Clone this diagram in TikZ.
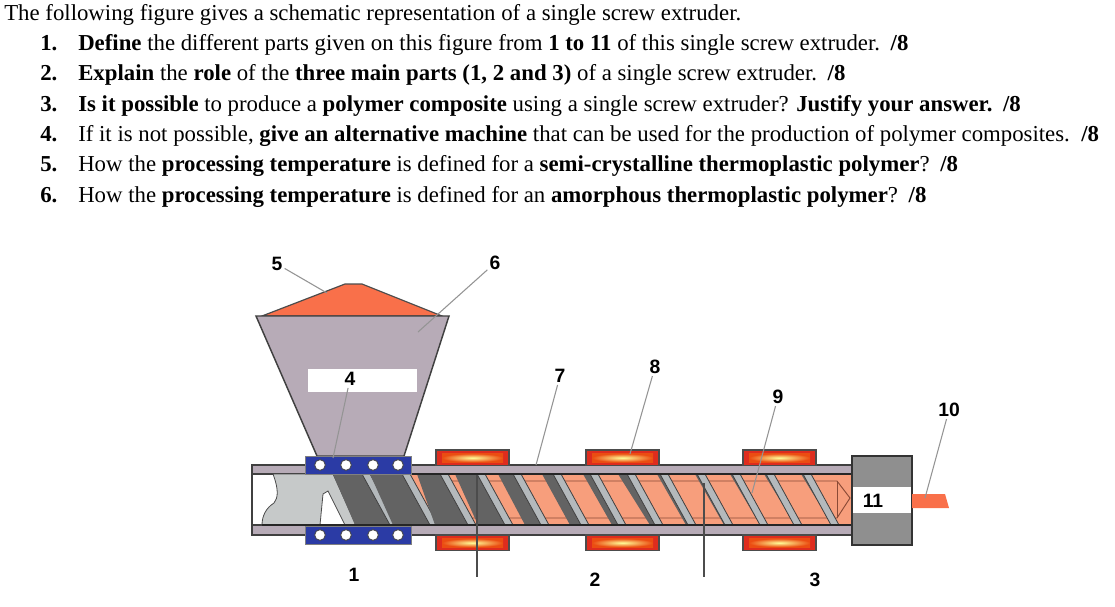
\documentclass[tikz,border=0pt]{standalone}
\usepackage{fontspec}
\setmainfont{Liberation Serif}
\setsansfont{Liberation Sans}
\usetikzlibrary{positioning}
\definecolor{hoppergrey}{HTML}{B7ABB7}
\definecolor{powder}{HTML}{F9704A}
\definecolor{melt}{HTML}{F79E7C}
\definecolor{bandblue}{HTML}{2B3BA5}
\definecolor{screwdark}{HTML}{636363}
\definecolor{flightgrey}{HTML}{B4B9BC}
\definecolor{feedgrey}{HTML}{C6C9C9}
\definecolor{diegrey}{HTML}{8F8F8F}
\definecolor{heaterred}{HTML}{DE2C1E}
\definecolor{meltline}{HTML}{8A4A36}
\newcommand{\markgap}{\hspace{8pt}}
\tikzset{
    line/.style={anchor=base west,inner sep=0pt,font=\fontsize{17.1}{19}\selectfont},
    partlabel/.style={font=\sffamily\bfseries\fontsize{14.5}{16}\selectfont,inner sep=1.5pt},
    leader/.style={draw=black!42,line width=0.8pt},
    edgeline/.style={draw=black!75,line width=1.1pt},
    heaterbox/.style={fill=heaterred,draw=black!70,line width=1pt},
    dot/.style={circle,fill=white,draw=black!75,line width=0.6pt,inner sep=0pt,minimum size=8pt},
}
\begin{document}
\begin{tikzpicture}[x=0.75pt,y=-0.75pt]
    \useasboundingbox (0,0) rectangle (1115,607);
    \fill[white] (0,0) rectangle (1115,607);

    %Text
    \node[line] at (4,20.5) (intro) {The following figure gives a schematic representation of a single screw extruder.};
    \node[line] at (40,50.5) (n1) {\textbf{1.}};
    \node[line] at (78,50.5) (q1) {\textbf{Define} the different parts given on this figure from \textbf{1 to 11} of this single screw extruder.\markgap\textbf{/8}};
    \node[line] at (40,80.5) (n2) {\textbf{2.}};
    \node[line] at (78,80.5) (q2) {\textbf{Explain} the \textbf{role} of the \textbf{three main parts (1, 2 and 3)} of a single screw extruder.\markgap\textbf{/8}};
    \node[line] at (40,111.5) (n3) {\textbf{3.}};
    \node[line] at (78,111.5) (q3) {\textbf{Is it possible} to produce a \textbf{polymer composite} using a single screw extruder? \textbf{Justify your answer.}\markgap\textbf{/8}};
    \node[line] at (40,141.5) (n4) {\textbf{4.}};
    \node[line] at (78,141.5) (q4) {If it is not possible, \textbf{give an alternative machine} that can be used for the production of polymer composites.\ \ \textbf{/8}};
    \node[line] at (40,171.5) (n5) {\textbf{5.}};
    \node[line] at (78,171.5) (q5) {How the \textbf{processing temperature} is defined for a \textbf{semi-crystalline thermoplastic polymer}?\markgap\textbf{/8}};
    \node[line] at (40,202.5) (n6) {\textbf{6.}};
    \node[line] at (78,202.5) (q6) {How the \textbf{processing temperature} is defined for an \textbf{amorphous thermoplastic polymer}?\markgap\textbf{/8}};

    %Hopper
    \fill[powder,draw=black!70,line width=0.9pt] (262,316) -- (345,284) -- (362,284) -- (442,316) -- cycle;
    \fill[hoppergrey,edgeline] (256,316) -- (449,316) -- (404,456) -- (317,456) -- cycle;
    \fill[white] (308,369) rectangle (417,392);

    %Barrel
    \fill[hoppergrey,edgeline] (252,465) rectangle (852,474);
    \fill[hoppergrey,edgeline] (252,525) rectangle (852,535);
    \draw[edgeline] (252,474) -- (252,525);

    %Melt and screw
    \fill[melt] (405,474) rectangle (852,525);
    \draw[meltline,line width=0.7pt] (430,481) -- (837,481) -- (850,498) -- (837,518) -- (420,518);
    \draw[meltline,line width=0.7pt] (837,481) -- (837,518);
    \fill[feedgrey,draw=black!70,line width=0.6pt] (273,474) -- (333,474) -- (356,525) -- (262,525) .. controls (262,516) and (266,508) .. (274,503) .. controls (278,498) and (279,490) .. cycle;
    \fill[white,draw=black!70,line width=0.6pt] (320,525) -- (323,494) -- (328,491) -- (345,525) -- cycle;
    \foreach \t/\ds/\db in {362/333/355,402/370/393,440/417/435,477/455/478,513/498/525,553/542/570,590/583/612,627/618/650,660/657/686,697/695/724,732/730/760,766/764/795,803/801/832}{
        \fill[screwdark] (\ds,474) -- (\t,474) -- (\t+28,525) -- (\db,525) -- cycle;
        \fill[flightgrey,draw=black!75,line width=0.6pt] (\t,474) -- (\t+8,474) -- (\t+36,525) -- (\t+28,525) -- cycle;
    }
    \draw[black!85,line width=1.1pt] (333,474) -- (852,474);
    \draw[black!85,line width=1.1pt] (262,525) -- (852,525);

    %Bands
    \foreach \y in {456,526}{
        \fill[bandblue,draw=black!50,line width=0.7pt] (305,\y) rectangle (411,\y+18);
        \foreach \x in {320,346,373,398}{
            \node[dot] at (\x,\y+9) {};
        }
    }

    %Heaters
    \foreach \x in {436,586,743}{
        \foreach \y in {450,535}{
            \fill[heaterbox] (\x,\y) rectangle (\x+73,\y+15.5);
            \shade[inner color=yellow!40!white,outer color=heaterred!60!orange] (\x+6,\y+3.5) rectangle (\x+67,\y+12);
        }
    }

    %Die
    \fill[diegrey,draw=black!80,line width=1.2pt] (852,456) rectangle (912,545);
    \fill[white] (853,487) rectangle (911,513);
    \fill[powder] (912,494) -- (945,494) -- (949,508) -- (912,508) -- cycle;

    %Nodes
    \node[partlabel] at (277,264) (five)   {5};
    \node[partlabel] at (495,263) (six)    {6};
    \node[partlabel] at (350,379) (four)   {4};
    \node[partlabel] at (560,376) (seven)  {7};
    \node[partlabel] at (655,367) (eight)  {8};
    \node[partlabel] at (778,397) (nine)   {9};
    \node[partlabel] at (949,410) (ten)    {10};
    \node[partlabel] at (873,501) (eleven) {11};
    \node[partlabel] at (354,575) (one)    {1};
    \node[partlabel] at (595,580) (two)    {2};
    \node[partlabel] at (815,580) (three)  {3};

    \coordinate (powderend) at (327,293);
    \coordinate (hopperend) at (418,332);
    \coordinate (bandend)   at (333,458);
    \coordinate (barrelend) at (536,465);
    \coordinate (heaterend) at (630,454);
    \coordinate (screwend)  at (752,493);
    \coordinate (meltend)   at (925,498);
    \coordinate (feedtop)   at (477,475);
    \coordinate (feedbot)   at (477,577);
    \coordinate (meterbot)  at (704,577);
    \coordinate (metertop)  at (704,483);

    %Lines
    \draw[leader] (five) -- (powderend);
    \draw[leader] (six) -- (hopperend);
    \draw[leader] (four) -- (bandend);
    \draw[leader] (seven) -- (barrelend);
    \draw[leader] (eight) -- (heaterend);
    \draw[leader] (nine) -- (screwend);
    \draw[leader] (ten) -- (meltend);
    \draw[black!70,line width=1pt] (feedtop) -- (feedbot);
    \draw[black!70,line width=1pt] (metertop) -- (meterbot);
\end{tikzpicture}
\end{document}
